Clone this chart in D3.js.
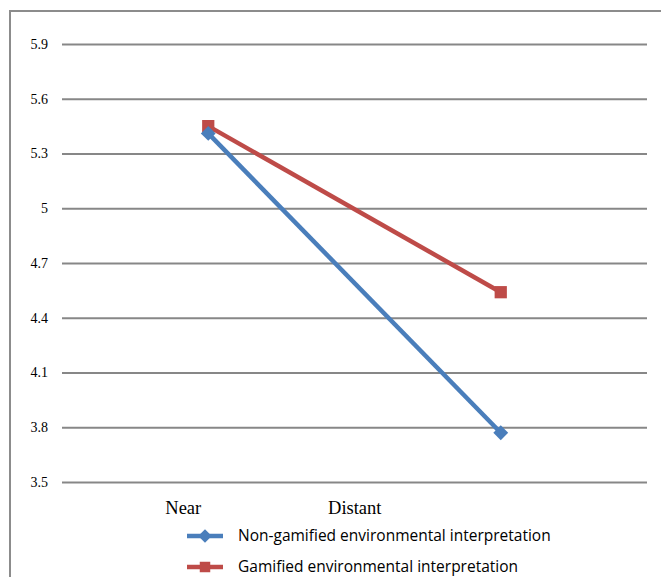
<!DOCTYPE html>
<html>
<head>
<meta charset="utf-8">
<script src="https://cdn.jsdelivr.net/npm/d3@7"></script>
<style>
  html, body { margin: 0; padding: 0; background: #ffffff; }
  svg { display: block; }
</style>
</head>
<body>
<svg id="chart" width="661" height="577"></svg>
<script>
// Distance categories along the x axis
const categories = ["Near", "Distant"];
// Mean scores per interpretation type
const nonGamified = [5.41, 3.77];
const gamified = [5.45, 4.54];
const seriesNames = ["Non-gamified environmental interpretation", "Gamified environmental interpretation"];
const yTicks = [3.5, 3.8, 4.1, 4.4, 4.7, 5, 5.3, 5.6, 5.9];

const colors = ["#4a7ebb", "#be4b48"];
const svg = d3.select("#chart");

const plot = { left: 62, right: 647, top: 44, bottom: 482 };

const x = d3.scaleBand().domain(categories).range([plot.left, plot.right]);
const y = d3.scaleLinear().domain([3.5, 5.9]).range([plot.bottom, plot.top]);

// Outer frame (top and left edges)
svg.append("path")
  .attr("d", "M10,577 L10,11 L661,11")
  .attr("fill", "none")
  .attr("stroke", "#8c8c8c")
  .attr("stroke-width", 2);

// Horizontal gridlines with value labels
const yAxis = d3.axisLeft(y).tickValues(yTicks).tickFormat(d3.format("")).tickSize(-(plot.right - plot.left)).tickPadding(14);
const gy = svg.append("g").attr("transform", `translate(${plot.left},0)`).call(yAxis);
gy.select(".domain").remove();
gy.selectAll(".tick line").attr("stroke", "#878787").attr("stroke-width", 2);
gy.selectAll(".tick text")
  .attr("font-family", "'Liberation Serif', 'Times New Roman', serif")
  .attr("font-size", 14)
  .attr("fill", "#000");

// Category labels below the plot
const labelShift = [-25, -146];
svg.append("g").selectAll("text")
  .data(categories)
  .join("text")
  .attr("x", (d, i) => x(d) + x.bandwidth() / 2 + labelShift[i])
  .attr("y", 514)
  .attr("text-anchor", "middle")
  .attr("font-family", "'Liberation Serif', 'Times New Roman', serif")
  .attr("font-size", 18.5)
  .attr("fill", "#000")
  .text(d => d);

const cx = d => x(d) + x.bandwidth() / 2;
const line = d3.line().x(d => cx(d.cat)).y(d => y(d.v));

// Square-on-point marker used for the non-gamified series
const rhombus = {
  draw(ctx, size) {
    const r = Math.sqrt(size / 2);
    ctx.moveTo(0, -r); ctx.lineTo(r, 0); ctx.lineTo(0, r); ctx.lineTo(-r, 0); ctx.closePath();
  }
};

const series = [nonGamified, gamified].map((vals, s) => ({
  name: seriesNames[s],
  color: colors[s],
  shape: s === 0 ? rhombus : d3.symbolSquare,
  points: vals.map((v, i) => ({ cat: categories[i], v }))
}));

// Draw gamified first so the non-gamified line sits on top near the start
const order = [series[1], series[0]];
order.forEach(s => {
  svg.append("path")
    .datum(s.points)
    .attr("d", line)
    .attr("fill", "none")
    .attr("stroke", s.color)
    .attr("stroke-width", 4.5);
  svg.append("g").selectAll("path")
    .data(s.points)
    .join("path")
    .attr("transform", d => `translate(${cx(d.cat)},${y(d.v)})`)
    .attr("d", d3.symbol().type(s.shape).size(s.shape === d3.symbolSquare ? 150 : 110))
    .attr("fill", s.color);
});

// Legend
const legend = svg.append("g");
series.forEach((s, i) => {
  const ly = 536 + i * 31;
  legend.append("line")
    .attr("x1", 187).attr("x2", 223).attr("y1", ly).attr("y2", ly)
    .attr("stroke", s.color).attr("stroke-width", 4.5);
  legend.append("path")
    .attr("transform", `translate(205,${ly})`)
    .attr("d", d3.symbol().type(s.shape).size(s.shape === d3.symbolSquare ? 110 : 90))
    .attr("fill", s.color);
  legend.append("text")
    .attr("x", 238).attr("y", ly + 5)
    .attr("font-family", "'Open Sans', 'Liberation Sans', sans-serif")
    .attr("font-size", 15.5)
    .attr("fill", "#000")
    .text(s.name);
});
</script>
</body>
</html>
